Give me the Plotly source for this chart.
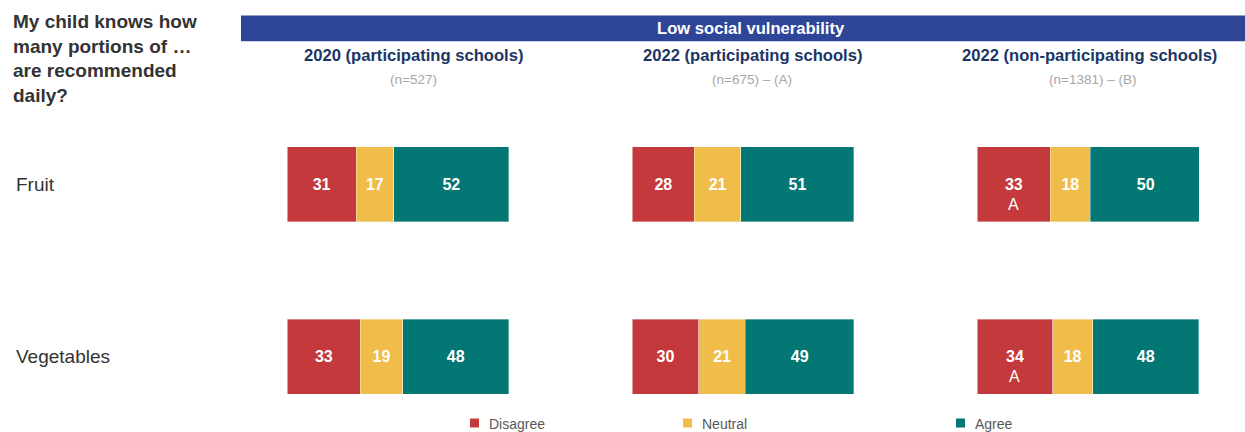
import plotly.graph_objects as go

# --- data ---------------------------------------------------------------
items = ["Fruit", "Vegetables"]
groups = ["2020 (participating schools)",
          "2022 (participating schools)",
          "2022 (non-participating schools)"]
group_n = ["(n=527)", "(n=675) – (A)", "(n=1381) – (B)"]
responses = ["Disagree", "Neutral", "Agree"]

# percentages per group: [Fruit, Vegetables]
disagree = [[31, 33], [28, 30], [33, 34]]
neutral = [[17, 19], [21, 21], [18, 18]]
agree = [[52, 48], [51, 49], [50, 48]]
# significance letters under the Disagree share
sig_disagree = [["", ""], ["", ""], ["A", "A"]]

band_title = "Low social vulnerability"
question = "My child knows how<br>many portions of …<br>are recommended<br>daily?"

colors = {"Disagree": "#C43A3C", "Neutral": "#F0BD4B", "Agree": "#037773"}

# --- geometry helpers (pixel -> paper) ----------------------------------
W, H = 1245, 432
def px(x):
    return x / W
def py(y):
    return 1 - y / H

FONT = "Liberation Sans, Arial, sans-serif"
panel_px = [(287.3, 509.0), (632.3, 854.0), (977.3, 1199.0)]
title_cx = [413, 752, 1089]
n_cx = [413, 752, 1092]

# y axis: Vegetables at index 0, Fruit at index 1
row_px = {"Fruit": 184.0, "Vegetables": 356.5}
unit = row_px["Vegetables"] - row_px["Fruit"]
y_top = 1 + row_px["Fruit"] / unit
y_bot = -(H - row_px["Vegetables"]) / unit
bar_w = 75 / unit

fig = go.Figure()
series = {"Disagree": disagree, "Neutral": neutral, "Agree": agree}

for g in range(len(groups)):
    xa = "x" if g == 0 else f"x{g + 1}"
    for r in responses:
        vals = series[r][g]
        fig.add_trace(go.Bar(
            y=items, x=vals, orientation="h", name=r,
            xaxis=xa, yaxis="y", width=bar_w,
            marker=dict(color=colors[r],
                        line=dict(color="rgba(255,255,255,0.45)", width=0.8)),
            text=vals, texttemplate="%{x}", textposition="inside",
            insidetextanchor="middle", textangle=0,
            textfont=dict(family=FONT, size=16, color="white", weight="bold"),
            showlegend=False, hoverinfo="skip",
        ))
    # significance letters
    for i, it in enumerate(items):
        s = sig_disagree[g][i]
        if s:
            fig.add_annotation(
                x=disagree[g][i] / 2, y=it, xref=xa, yref="y",
                text=s, showarrow=False, yshift=-20,
                font=dict(family=FONT, size=16, color="white"))

layout_axes = {}
for g, (a, b) in enumerate(panel_px):
    key = "xaxis" if g == 0 else f"xaxis{g + 1}"
    layout_axes[key] = dict(domain=[px(a), px(b)], range=[0, 100],
                            visible=False, fixedrange=True, anchor="y")

fig.update_layout(
    width=W, height=H,
    margin=dict(l=0, r=0, t=0, b=0),
    paper_bgcolor="white", plot_bgcolor="white",
    barmode="stack",
    yaxis=dict(domain=[0, 1], type="category", categoryarray=["Vegetables", "Fruit"],
               range=[y_bot, y_top], visible=False, fixedrange=True),
    **layout_axes,
)

# header band
fig.add_shape(type="rect", xref="paper", yref="paper",
              x0=px(241), x1=px(1245), y0=py(41.3), y1=py(15.5),
              fillcolor="#2F4598", line=dict(width=0), layer="below")
fig.add_annotation(xref="paper", yref="paper", x=px(751), y=py(28.5),
                   text=f"<b>{band_title}</b>", showarrow=False,
                   xanchor="center", yanchor="middle",
                   font=dict(family=FONT, size=16.6, color="white"))

# group titles and sample sizes
for g in range(len(groups)):
    fig.add_annotation(xref="paper", yref="paper", x=px(title_cx[g]), y=py(55),
                       text=f"<b>{groups[g]}</b>", showarrow=False,
                       xanchor="center", yanchor="middle",
                       font=dict(family=FONT, size=16.6, color="#1B3564"))
    fig.add_annotation(xref="paper", yref="paper", x=px(n_cx[g]), y=py(80),
                       text=group_n[g], showarrow=False,
                       xanchor="center", yanchor="middle",
                       font=dict(family=FONT, size=13.5, color="#A6A6A6"))

# question
fig.add_annotation(xref="paper", yref="paper", x=px(11), y=py(9),
                   text=f"<b>{question}</b>", showarrow=False,
                   xanchor="left", yanchor="top", align="left",
                   font=dict(family=FONT, size=19, color="#333333"))

# row labels
for it in items:
    fig.add_annotation(xref="paper", yref="y", x=px(14), y=it,
                       text=it, showarrow=False, xanchor="left", yanchor="middle",
                       font=dict(family=FONT, size=19, color="#333333"))

# legend
legend_px = [(470, 487), (683, 700), (956, 973)]
for r, (mx, tx) in zip(responses, legend_px):
    fig.add_shape(type="rect", xref="paper", yref="paper",
                  x0=px(mx), x1=px(mx + 9), y0=py(427.5), y1=py(418.5),
                  fillcolor=colors[r], line=dict(width=0))
    fig.add_annotation(xref="paper", yref="paper", x=px(tx), y=py(423.5),
                       text=r, showarrow=False, xanchor="left", yanchor="middle",
                       font=dict(family=FONT, size=14, color="#595959"))

fig.write_html("out.html")
